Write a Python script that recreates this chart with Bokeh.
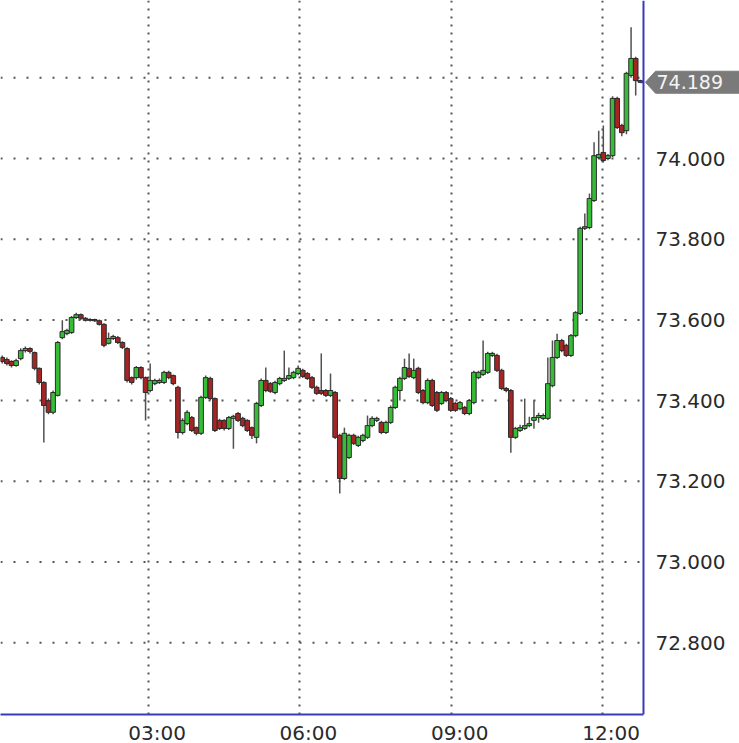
import numpy as np
from bokeh.plotting import figure
from bokeh.models import (FixedTicker, CustomJSTickFormatter, Span, ColumnDataSource)
from bokeh.core.properties import value
from bokeh.embed import file_html
from bokeh.resources import INLINE

# ---- data (prices) ----
first_candle_min = 6.0      # first candle time, minutes after 00:00
candle_step_min = 5.5       # candle spacing, minutes

opens = [73.507, 73.502, 73.497, 73.487, 73.504, 73.524, 73.529, 73.519, 73.480, 73.445,
         73.400, 73.371, 73.413, 73.556, 73.566, 73.569, 73.606, 73.613, 73.604, 73.599,
         73.601, 73.598, 73.589, 73.542, 73.554, 73.556, 73.544, 73.529, 73.457, 73.457,
         73.482, 73.457, 73.425, 73.442, 73.445, 73.445, 73.470, 73.462, 73.433, 73.321,
         73.343, 73.358, 73.333, 73.319, 73.408, 73.455, 73.405, 73.351, 73.351, 73.331,
         73.356, 73.368, 73.356, 73.351, 73.333, 73.309, 73.388, 73.450, 73.442, 73.420,
         73.442, 73.450, 73.455, 73.457, 73.467, 73.475, 73.467, 73.457, 73.433, 73.425,
         73.425, 73.413, 73.420, 73.314, 73.207, 73.259, 73.314, 73.289, 73.301, 73.309,
         73.338, 73.351, 73.346, 73.321, 73.346, 73.383, 73.425, 73.455, 73.480, 73.457,
         73.480, 73.425, 73.395, 73.450, 73.420, 73.393, 73.420, 73.405, 73.393, 73.380,
         73.383, 73.368, 73.395, 73.457, 73.465, 73.470, 73.512, 73.512, 73.475, 73.430,
         73.425, 73.309, 73.326, 73.331, 73.338, 73.351, 73.358, 73.356, 73.356, 73.437,
         73.507, 73.549, 73.537, 73.512, 73.561, 73.616, 73.827, 73.829, 73.896, 74.002,
         74.015, 74.000, 74.007, 74.149, 74.082, 74.069, 74.206, 74.248, 74.193]
highs = [73.512, 73.507, 73.500, 73.504, 73.530, 73.534, 73.532, 73.522, 73.482, 73.448,
         73.405, 73.425, 73.548, 73.599, 73.578, 73.610, 73.618, 73.616, 73.607, 73.604,
         73.603, 73.601, 73.592, 73.569, 73.563, 73.560, 73.547, 73.532, 73.460, 73.486,
         73.485, 73.460, 73.492, 73.454, 73.455, 73.474, 73.474, 73.465, 73.437, 73.356,
         73.376, 73.362, 73.336, 73.412, 73.462, 73.459, 73.408, 73.355, 73.354, 73.362,
         73.365, 73.372, 73.360, 73.354, 73.336, 73.397, 73.455, 73.482, 73.446, 73.449,
         73.459, 73.524, 73.482, 73.474, 73.487, 73.479, 73.471, 73.461, 73.437, 73.517,
         73.429, 73.467, 73.424, 73.318, 73.333, 73.318, 73.318, 73.313, 73.318, 73.363,
         73.361, 73.360, 73.350, 73.350, 73.388, 73.437, 73.459, 73.504, 73.517, 73.504,
         73.484, 73.429, 73.455, 73.454, 73.424, 73.424, 73.424, 73.409, 73.397, 73.399,
         73.387, 73.404, 73.474, 73.474, 73.549, 73.521, 73.521, 73.516, 73.479, 73.434,
         73.429, 73.335, 73.340, 73.405, 73.360, 73.400, 73.370, 73.368, 73.507, 73.549,
         73.566, 73.553, 73.541, 73.565, 73.622, 73.831, 73.864, 73.913, 74.040, 74.069,
         74.082, 74.011, 74.154, 74.153, 74.086, 74.215, 74.325, 74.252, 74.195]
lows = [73.492, 73.487, 73.482, 73.484, 73.500, 73.519, 73.517, 73.475, 73.440, 73.296,
        73.366, 73.366, 73.410, 73.552, 73.562, 73.565, 73.602, 73.600, 73.596, 73.596,
        73.595, 73.586, 73.532, 73.539, 73.550, 73.540, 73.528, 73.445, 73.440, 73.452,
        73.453, 73.351, 73.421, 73.438, 73.441, 73.441, 73.453, 73.438, 73.306, 73.316,
        73.339, 73.322, 73.314, 73.315, 73.404, 73.401, 73.322, 73.327, 73.326, 73.327,
        73.281, 73.347, 73.334, 73.322, 73.305, 73.294, 73.384, 73.421, 73.419, 73.416,
        73.438, 73.446, 73.451, 73.453, 73.463, 73.456, 73.451, 73.429, 73.414, 73.414,
        73.409, 73.409, 73.305, 73.170, 73.203, 73.255, 73.290, 73.285, 73.297, 73.305,
        73.334, 73.347, 73.317, 73.317, 73.342, 73.379, 73.400, 73.451, 73.456, 73.453,
        73.416, 73.391, 73.391, 73.384, 73.372, 73.389, 73.396, 73.372, 73.372, 73.376,
        73.364, 73.364, 73.391, 73.453, 73.461, 73.466, 73.508, 73.471, 73.426, 73.421,
        73.271, 73.305, 73.322, 73.327, 73.334, 73.330, 73.345, 73.352, 73.352, 73.433,
        73.503, 73.520, 73.508, 73.508, 73.557, 73.612, 73.823, 73.825, 73.892, 73.998,
        73.990, 73.996, 74.003, 74.073, 74.055, 74.060, 74.200, 74.156, 74.187]
closes = [73.497, 73.492, 73.487, 73.499, 73.524, 73.529, 73.522, 73.480, 73.445, 73.388,
          73.371, 73.420, 73.544, 73.571, 73.574, 73.606, 73.613, 73.604, 73.599, 73.601,
          73.598, 73.589, 73.537, 73.554, 73.559, 73.544, 73.532, 73.450, 73.445, 73.482,
          73.457, 73.420, 73.450, 73.450, 73.450, 73.470, 73.457, 73.442, 73.321, 73.351,
          73.371, 73.326, 73.319, 73.408, 73.457, 73.405, 73.326, 73.331, 73.331, 73.358,
          73.361, 73.351, 73.338, 73.326, 73.314, 73.393, 73.450, 73.425, 73.423, 73.445,
          73.455, 73.455, 73.462, 73.470, 73.480, 73.460, 73.455, 73.433, 73.418, 73.418,
          73.413, 73.425, 73.309, 73.207, 73.319, 73.314, 73.294, 73.309, 73.314, 73.338,
          73.356, 73.356, 73.321, 73.346, 73.383, 73.433, 73.455, 73.482, 73.460, 73.475,
          73.420, 73.395, 73.450, 73.388, 73.376, 73.420, 73.400, 73.376, 73.376, 73.395,
          73.368, 73.400, 73.470, 73.470, 73.475, 73.517, 73.517, 73.475, 73.430, 73.425,
          73.309, 73.331, 73.333, 73.338, 73.343, 73.358, 73.363, 73.363, 73.442, 73.507,
          73.549, 73.524, 73.512, 73.561, 73.618, 73.827, 73.831, 73.901, 74.007, 74.010,
          73.995, 74.007, 74.149, 74.077, 74.064, 74.211, 74.248, 74.193, 74.189]

price_ticks = [72.8, 73.0, 73.2, 73.4, 73.6, 73.8, 74.0]
price_grid = [72.8, 73.0, 73.2, 73.4, 73.6, 73.8, 74.0, 74.2]
time_ticks_h = [3, 6, 9, 12]
time_labels = ["03:00", "06:00", "09:00", "12:00"]
last_price = closes[-1]

# ---- layout / styles ----
UP = "#36bd36"
DOWN = "#a52424"
EDGE = "#2b2b2b"
WICK = "#505050"
FRAME = "#3a3ab8"
FONT = "DejaVu Sans"
PX_PER_H = 50.44            # horizontal scale (pixels per hour)
PX_PER_P = 403.5            # vertical scale (pixels per price unit)
x_start = 0.0658
chart_end = 12.813          # end of the candle area (blue border)
x_end = chart_end + 96 / PX_PER_H   # includes the price-scale strip
y_start, y_end = 72.6221, 74.3916

n = len(opens)
t = [(first_candle_min + i * candle_step_min) / 60.0 for i in range(n)]
step_h = candle_step_min / 60.0
o = np.array(opens); c = np.array(closes)
src = ColumnDataSource(dict(
    t=t, high=highs, low=lows,
    top=np.maximum(o, c), bottom=np.minimum(o, c),
    color=[UP if cc >= oo else DOWN for oo, cc in zip(opens, closes)],
))

p = figure(frame_width=739, frame_height=714, output_backend="svg", toolbar_location=None,
           x_range=(x_start, x_end), y_range=(y_start, y_end),
           y_axis_location=None, min_border_left=0, min_border_top=0,
           min_border_right=0, min_border_bottom=29)
p.outline_line_color = None
p.background_fill_color = "white"
p.border_fill_color = "white"

# horizontal dotted grid, only across the candle area
p.ygrid.visible = False
p.segment(x0=[x_start] * len(price_grid), y0=price_grid,
          x1=[chart_end] * len(price_grid), y1=price_grid,
          line_color="#555555", line_dash="2 11", line_width=2)
# vertical dotted grid
p.xgrid.ticker = FixedTicker(ticks=time_ticks_h)
p.xgrid.grid_line_color = "#555555"
p.xgrid.grid_line_dash = "2 6"
p.xgrid.grid_line_width = 2

# candles
p.segment("t", "high", "t", "low", source=src, line_color=WICK, line_width=1.5)
p.vbar(x="t", width=step_h, top="top", bottom="bottom", source=src,
       fill_color="color", line_color=EDGE, line_width=1)

# right border of the candle area
p.add_layout(Span(location=chart_end, dimension="height", line_color=FRAME, line_width=2))

# price scale labels
label_x = chart_end + 12 / PX_PER_H
p.text(x=[label_x] * len(price_ticks), y=price_ticks,
       text=[f"{v:.3f}" for v in price_ticks],
       text_font=value(FONT), text_font_size="20px", text_color="#2a2a2a",
       text_baseline="middle", text_align="left")

# last price marker
half_h = 11 / PX_PER_P
tip = chart_end + 2 / PX_PER_H
body = chart_end + 12 / PX_PER_H
p.segment(x0=[t[-1]], y0=[last_price], x1=[chart_end], y1=[last_price],
          line_color=FRAME, line_width=2)
p.patch(x=[tip, body, x_end, x_end, body],
        y=[last_price, last_price + half_h, last_price + half_h,
           last_price - half_h, last_price - half_h],
        fill_color="#7a7a7a", line_color="#7a7a7a")
p.text(x=[body + 1 / PX_PER_H], y=[last_price], text=[f"{last_price:.3f}"],
       text_font=value(FONT), text_font_size="19px", text_color="#f4f4f4",
       text_baseline="middle", text_align="left")

# x axis (below); labels sit slightly right of their grid line
label_shift_h = 0.17
xa = p.xaxis[0]
xa.bounds = (x_start, chart_end)
xa.ticker = FixedTicker(ticks=[h + label_shift_h for h in time_ticks_h])
xa.formatter = CustomJSTickFormatter(
    args=dict(labels=time_labels, hours=time_ticks_h, shift=label_shift_h),
    code="""
    for (let i = 0; i < hours.length; i++) {
        if (Math.abs(hours[i] + shift - tick) < 1e-6) return labels[i];
    }
    return "";
""")
xa.axis_line_color = FRAME
xa.axis_line_width = 2
xa.major_tick_line_color = None
xa.minor_tick_line_color = None
xa.major_tick_out = 0
xa.major_tick_in = 0
xa.minor_tick_out = 0
xa.major_label_standoff = 6
xa.major_label_text_font = FONT
xa.major_label_text_font_size = "20px"
xa.major_label_text_color = "#2a2a2a"

open("out.html", "w").write(file_html(p, INLINE))
